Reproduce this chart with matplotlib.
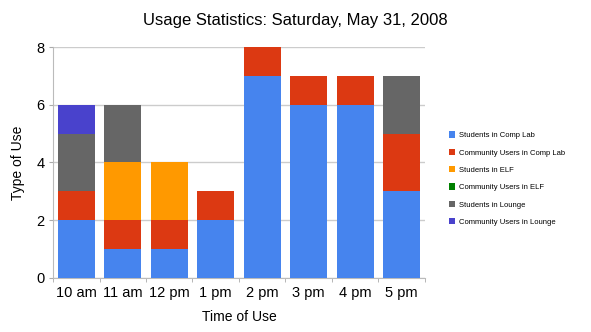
import numpy as np
import matplotlib
matplotlib.use('Agg')
import matplotlib.pyplot as plt

plt.rcParams['font.family'] = ['Liberation Sans', 'DejaVu Sans']

hours = ['10 am', '11 am', '12 pm', '1 pm', '2 pm', '3 pm', '4 pm', '5 pm']
series_names = ['Students in Comp Lab', 'Community Users in Comp Lab', 'Students in ELF',
                'Community Users in ELF', 'Students in Lounge', 'Community Users in Lounge']
students_comp = [2, 1, 1, 2, 7, 6, 6, 3]
community_comp = [1, 1, 1, 1, 1, 1, 1, 2]
students_elf = [0, 2, 2, 0, 0, 0, 0, 0]
community_elf = [0, 0, 0, 0, 0, 0, 0, 0]
students_lounge = [2, 2, 0, 0, 0, 0, 0, 2]
community_lounge = [1, 0, 0, 0, 0, 0, 0, 0]
colors = ['#4684ee', '#dc3912', '#ff9900', '#008000', '#666666', '#4942cc']

fig = plt.figure(figsize=(5.91, 3.32), dpi=100)
ax = fig.add_axes([0.0897, 0.1627, 0.6293, 0.6957])

x = np.arange(len(hours))
bottom = np.zeros(len(hours))
for name, vals, c in zip(series_names,
                         [students_comp, community_comp, students_elf, community_elf,
                          students_lounge, community_lounge], colors):
    ax.bar(x, vals, bottom=bottom, width=0.8, color=c, label=name, zorder=3)
    bottom += np.array(vals)

ax.set_xlim(-0.5, len(hours) - 0.5)
ax.set_ylim(0, 8)
ax.set_yticks([0, 2, 4, 6, 8])
ax.yaxis.grid(True, color='#cccccc', linewidth=1, zorder=0)
ax.set_xticks(x)
ax.set_xticklabels(hours, fontsize=10.5)
ax.set_xticks(np.arange(len(hours) + 1) - 0.5, minor=True)
ax.tick_params(axis='x', which='major', length=0, pad=6)
ax.tick_params(axis='x', which='minor', length=3, color='#aaaaaa')
ax.tick_params(axis='y', length=3, color='#aaaaaa', labelsize=10.5, pad=3)
for s in ['top', 'right']:
    ax.spines[s].set_visible(False)
for s in ['left', 'bottom']:
    ax.spines[s].set_color('#bbbbbb')

ax.set_xlabel('Time of Use', fontsize=10, labelpad=7)
ax.set_ylabel('Type of Use', fontsize=10, labelpad=8)
fig.suptitle('Usage Statistics: Saturday, May 31, 2008', fontsize=12, y=0.96)

ax.legend(loc='center left', bbox_to_anchor=(1.045, 0.43), frameon=False, fontsize=5.5,
          handlelength=0.9, handleheight=0.9, labelspacing=1.25, handletextpad=0.5)

fig.savefig('out.png', dpi=100)
